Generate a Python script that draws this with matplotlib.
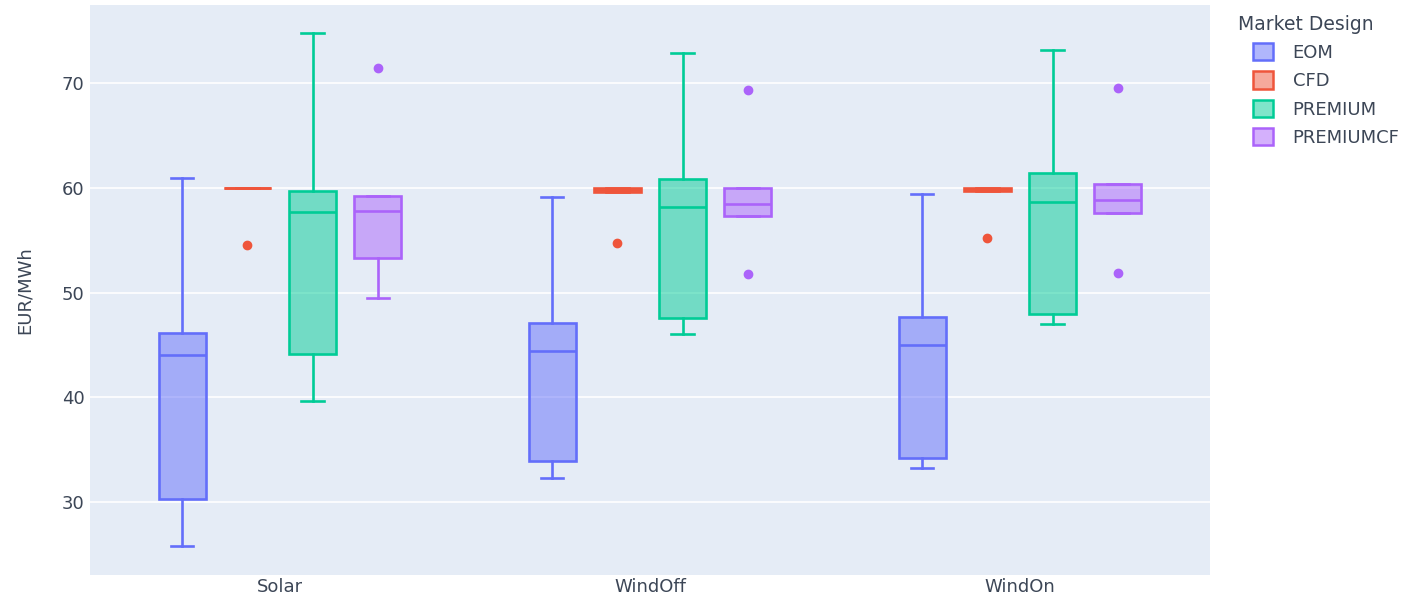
import matplotlib
matplotlib.use('Agg')
import matplotlib.pyplot as plt
from matplotlib.colors import to_rgba
from matplotlib.patches import Patch

plt.rcParams['font.family'] = ['DejaVu Sans']

categories = ['Solar', 'WindOff', 'WindOn']
designs = ['EOM', 'CFD', 'PREMIUM', 'PREMIUMCF']
colors = ['#636EFA', '#EF553B', '#00CC96', '#AB63FA']

# per category: whisker low, Q1, median, Q3, whisker high
eom = [[25.8, 30.3, 44.0, 46.1, 61.0],
       [32.3, 33.9, 44.4, 47.1, 59.1],
       [33.2, 34.2, 45.0, 47.7, 59.4]]
cfd = [[60.0, 60.0, 60.0, 60.0, 60.0],
       [59.6, 59.6, 59.8, 60.0, 60.0],
       [59.7, 59.7, 59.9, 60.0, 60.0]]
premium = [[39.6, 44.1, 57.7, 59.7, 74.8],
           [46.0, 47.6, 58.2, 60.9, 72.9],
           [47.0, 48.0, 58.7, 61.4, 73.2]]
premiumcf = [[49.5, 53.3, 57.8, 59.2, 59.2],
             [57.3, 57.3, 58.5, 60.0, 60.0],
             [57.6, 57.6, 58.9, 60.4, 60.4]]

# outliers
eom_out = [[], [], []]
cfd_out = [[54.6], [54.7], [55.2]]
premium_out = [[], [], []]
premiumcf_out = [[71.5], [69.4, 51.8], [69.6, 51.9]]

summaries = [eom, cfd, premium, premiumcf]
outliers = [eom_out, cfd_out, premium_out, premiumcf_out]

txt = '#3c4656'
fig = plt.figure(figsize=(14.06, 5.98), dpi=100)
ax = fig.add_axes([90/1406, 23/598, 1120/1406, 570/598])
ax.set_facecolor('#E5ECF6')

offsets = [-0.264, -0.088, 0.088, 0.264]
width = 0.127
lw = 1.9
for summ, outs, c, off in zip(summaries, outliers, colors, offsets):
    stats = []
    for i in range(len(categories)):
        lo, q1, med, q3, hi = summ[i]
        stats.append(dict(whislo=lo, q1=q1, med=med, q3=q3, whishi=hi,
                          fliers=outs[i], label=''))
    pos = [i + off for i in range(len(categories))]
    ax.bxp(stats, positions=pos, widths=width, capwidths=0.06,
           patch_artist=True, manage_ticks=False,
           boxprops=dict(facecolor=to_rgba(c, 0.5), edgecolor=c, lw=lw),
           medianprops=dict(color=c, lw=lw),
           whiskerprops=dict(color=c, lw=lw),
           capprops=dict(color=c, lw=lw),
           flierprops=dict(marker='o', markerfacecolor=c, markeredgecolor=c,
                           markersize=6, linestyle='none'))

ax.set_xlim(-0.5135, 2.5135)
ax.set_ylim(23.0, 77.5)
ax.set_xticks(range(len(categories)))
ax.set_xticklabels(categories)
ax.set_yticks([30, 40, 50, 60, 70])
ax.grid(axis='y', color='white', lw=1.2)
ax.set_axisbelow(True)
for s in ax.spines.values():
    s.set_visible(False)
ax.tick_params(length=0, labelsize=13, colors=txt)
ax.tick_params(axis='y', pad=4)
ax.tick_params(axis='x', pad=2)
ax.set_ylabel('EUR/MWh', fontsize=13, color=txt, labelpad=20)

fig.text(1238/1406, 1 - 25/598, 'Market Design', fontsize=13.5, color=txt,
         ha='left', va='center')
handles = [Patch(facecolor=to_rgba(c, 0.5), edgecolor=c, lw=1.8) for c in colors]
leg = fig.legend(handles, designs, loc='upper left',
                 bbox_to_anchor=(1253/1406, 1 - 43/598), frameon=False,
                 fontsize=13, handlelength=1.1, handleheight=1.1,
                 labelspacing=0.53, handletextpad=1.1, borderaxespad=0,
                 borderpad=0)
for t in leg.get_texts():
    t.set_color(txt)

fig.savefig('out.png', dpi=100)
